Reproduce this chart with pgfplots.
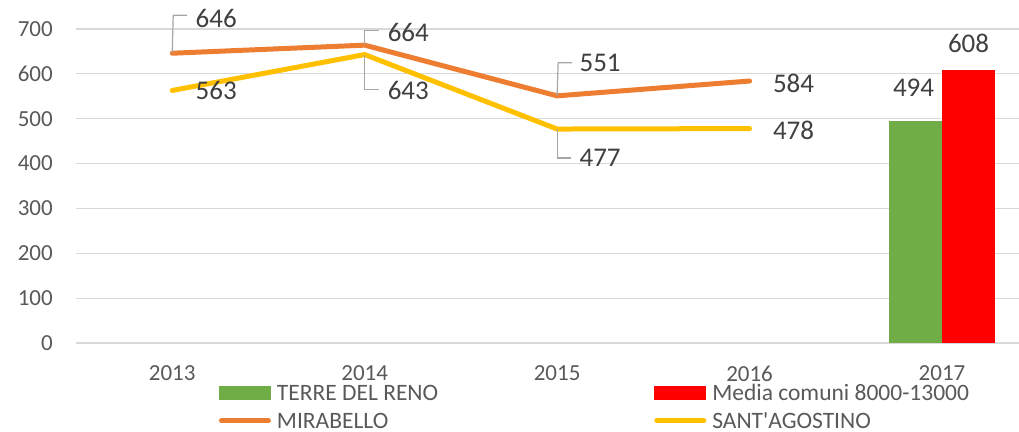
\documentclass[border=0pt]{standalone}
\usepackage{fontspec}
\setmainfont{Carlito}[Ligatures=TeXOff]
\usepackage{pgfplots}
\pgfplotsset{compat=1.18}
\definecolor{mgreen}{HTML}{70AD47}
\definecolor{mred}{HTML}{FF0000}
\definecolor{morange}{HTML}{ED7D31}
\definecolor{mgold}{HTML}{FFC000}
\definecolor{gridgray}{HTML}{D9D9D9}
\definecolor{tickgray}{HTML}{595959}
\definecolor{labelgray}{HTML}{404040}
\definecolor{leadergray}{HTML}{A6A6A6}
\begin{document}
\begin{tikzpicture}[
  dl/.style={font=\fontsize{27bp}{27bp}\selectfont, text=labelgray, inner sep=0pt, anchor=center},
  leader/.style={draw=leadergray, line width=1.2bp}]
\useasboundingbox (0bp,0bp) rectangle (1019bp,432bp);
\begin{axis}[
  at={(76bp,89bp)}, anchor=south west,
  scale only axis, width=943bp, height=314bp,
  xmin=-0.5, xmax=4.4, ymin=0, ymax=700,
  xtick={0,1,2,3,4}, xticklabels={2013,2014,2015,2016,2017},
  ytick={0,100,200,300,400,500,600,700},
  ymajorgrids, grid style={draw=gridgray, line width=1.2bp},
  axis line style={draw=none},
  major tick length=0pt,
  tick label style={font=\fontsize{23bp}{23bp}\selectfont, text=tickgray},
  /pgf/number format/assume math mode=true,
  xticklabel style={anchor=north, inner sep=0pt, yshift=-22.5bp},
  yticklabel style={anchor=east, inner sep=0pt, xshift=-23bp},
  clip=false,
  legend columns=2,
  legend cell align=left,
  legend style={draw=none, fill=none, at={(0.1516,-0.1340)}, anchor=north west,
    inner sep=0pt, outer sep=0pt, row sep=13bp,
    font=\fontsize{23.5bp}{23.5bp}\selectfont, text=tickgray,
    nodes={inner sep=0pt, text height=15bp, text depth=0bp},
    /tikz/every odd column/.append style={column sep=6bp},
    /tikz/every even column/.append style={column sep=216bp}},
]
\addplot[ybar, bar width=53bp, bar shift=-26.5bp, fill=mgreen, draw=none,
  legend image code/.code={\fill[mgreen] (0bp,-7bp) rectangle (52bp,7bp);}]
  coordinates {(4,494)};
\addlegendentry{TERRE DEL RENO}
\addplot[ybar, bar width=53bp, bar shift=26.5bp, fill=mred, draw=none,
  legend image code/.code={\fill[mred] (0bp,-7bp) rectangle (52bp,7bp);}]
  coordinates {(4,608)};
\addlegendentry{Media comuni 8000-13000}
\addplot[morange, line width=5bp, line cap=round, line join=round, mark=none,
  legend image code/.code={\draw[morange, line width=5bp, line cap=round] (2.5bp,0bp) -- (49.5bp,0bp);}]
  coordinates {(0,646) (1,664) (2,551) (3,584)};
\addlegendentry{MIRABELLO}
\addplot[mgold, line width=5bp, line cap=round, line join=round, mark=none,
  legend image code/.code={\draw[mgold, line width=5bp, line cap=round] (2.5bp,0bp) -- (49.5bp,0bp);}]
  coordinates {(0,563) (1,643) (2,477) (3,478)};
\addlegendentry{SANT'AGOSTINO}

% leader lines
\draw[leader] (axis cs:0,646) -- ++(1bp,38bp) -- ++(14bp,0bp);
\draw[leader] (axis cs:1,664) -- ++(0bp,15bp) -- ++(14bp,0bp);
\draw[leader] (axis cs:1,643) -- ++(0bp,-35bp) -- ++(14bp,0bp);
\draw[leader] (axis cs:2,551) -- ++(1bp,33bp) -- ++(14bp,0bp);
\draw[leader] (axis cs:2,477) -- ++(0bp,-29bp) -- ++(14bp,0bp);

% data labels
\node[dl] at ([shift={(44bp,35bp)}]axis cs:0,646) {646};
\node[dl] at ([shift={(44bp,-0bp)}]axis cs:0,563) {563};
\node[dl] at ([shift={(43.6bp,13bp)}]axis cs:1,664) {664};
\node[dl] at ([shift={(43.6bp,-36.4bp)}]axis cs:1,643) {643};
\node[dl] at ([shift={(43bp,33bp)}]axis cs:2,551) {551};
\node[dl] at ([shift={(43bp,-29bp)}]axis cs:2,477) {477};
\node[dl] at ([shift={(44bp,-2bp)}]axis cs:3,584) {584};
\node[dl] at ([shift={(44bp,-1.5bp)}]axis cs:3,478) {478};
\node[dl] at ([shift={(-28.5bp,33.5bp)}]axis cs:4,494) {494};
\node[dl] at ([shift={(26.5bp,27bp)}]axis cs:4,608) {608};
\end{axis}
\end{tikzpicture}
\end{document}
